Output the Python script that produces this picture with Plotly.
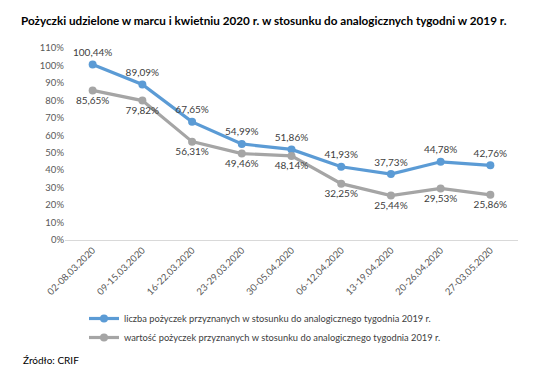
import plotly.graph_objects as go

weeks = ["02-08.03.2020", "09-15.03.2020", "16-22.03.2020", "23-29.03.2020",
         "30-05.04.2020", "06-12.04.2020", "13-19.04.2020", "20-26.04.2020",
         "27-03.05.2020"]
liczba = [100.44, 89.09, 67.65, 54.99, 51.86, 41.93, 37.73, 44.78, 42.76]
wartosc = [85.65, 79.82, 56.31, 49.46, 48.14, 32.25, 25.44, 29.53, 25.86]
name_liczba = "liczba pożyczek przyznanych w stosunku do analogicznego tygodnia 2019 r."
name_wartosc = "wartość pożyczek przyznanych w stosunku do analogicznego tygodnia 2019 r."
y_ticks = list(range(0, 111, 10))

FONT = "Lato, 'Open Sans', sans-serif"
W, H = 536, 365
L, R, T, B = 57, 26, 39, 133
pw = W - L - R
ph = H - T - B

fig = go.Figure()
fig.add_trace(go.Scatter(
    x=weeks, y=liczba, name=name_liczba, mode="lines+markers+text",
    line=dict(color="#5B9BD5", width=3.2), marker=dict(size=8, color="#5B9BD5"),
    texttemplate="%{y:.2f}%", textposition="top center",
    textfont=dict(size=10, color="#404040", family=FONT),
))
fig.add_trace(go.Scatter(
    x=weeks, y=wartosc, name=name_wartosc, mode="lines+markers+text",
    line=dict(color="#A5A5A5", width=3.2), marker=dict(size=8, color="#A5A5A5"),
    texttemplate="%{y:.2f}%", textposition="bottom center",
    textfont=dict(size=10, color="#404040", family=FONT),
))

fig.update_layout(
    width=W, height=H, autosize=False,
    margin=dict(l=L, r=R, t=T, b=B),
    paper_bgcolor="white", plot_bgcolor="white",
    separators=", ",
    font=dict(family=FONT, color="#595959", size=10),
    title=dict(
        text="<b>Pożyczki udzielone w marcu i kwietniu 2020 r. w stosunku do analogicznych tygodni w 2019 r.</b>",
        x=13 / W, xanchor="left", xref="container",
        y=1 - 13 / H, yanchor="middle", yref="container",
        font=dict(size=11.7, color="#000000", family=FONT),
    ),
    showlegend=True,
    legend=dict(
        orientation="v", x=(76 - L) / pw, xanchor="left",
        y=(T + ph - 296) / ph, yanchor="top",
        font=dict(size=9.3, color="#404040", family=FONT),
        itemwidth=30, tracegroupgap=0, bgcolor="rgba(0,0,0,0)",
    ),
    xaxis=dict(
        type="category", showgrid=False, showline=True, linecolor="#D9D9D9",
        linewidth=1, ticks="", tickangle=-45,
        tickfont=dict(size=9.5, color="#595959", family=FONT),
    ),
    yaxis=dict(
        range=[0, 110.5], tickvals=y_ticks, ticktext=[f"{v}%" for v in y_ticks],
        showgrid=False, zeroline=False, showline=False, ticks="",
        tickfont=dict(size=9.5, color="#595959", family=FONT),
    ),
    annotations=[dict(
        text="Źródło: CRIF", xref="paper", yref="paper",
        x=(13 - L) / pw, xanchor="left", y=(T + ph - 352) / ph, yanchor="middle",
        showarrow=False, font=dict(size=10, color="#000000", family=FONT),
    )],
)

fig.write_html("out.html")
